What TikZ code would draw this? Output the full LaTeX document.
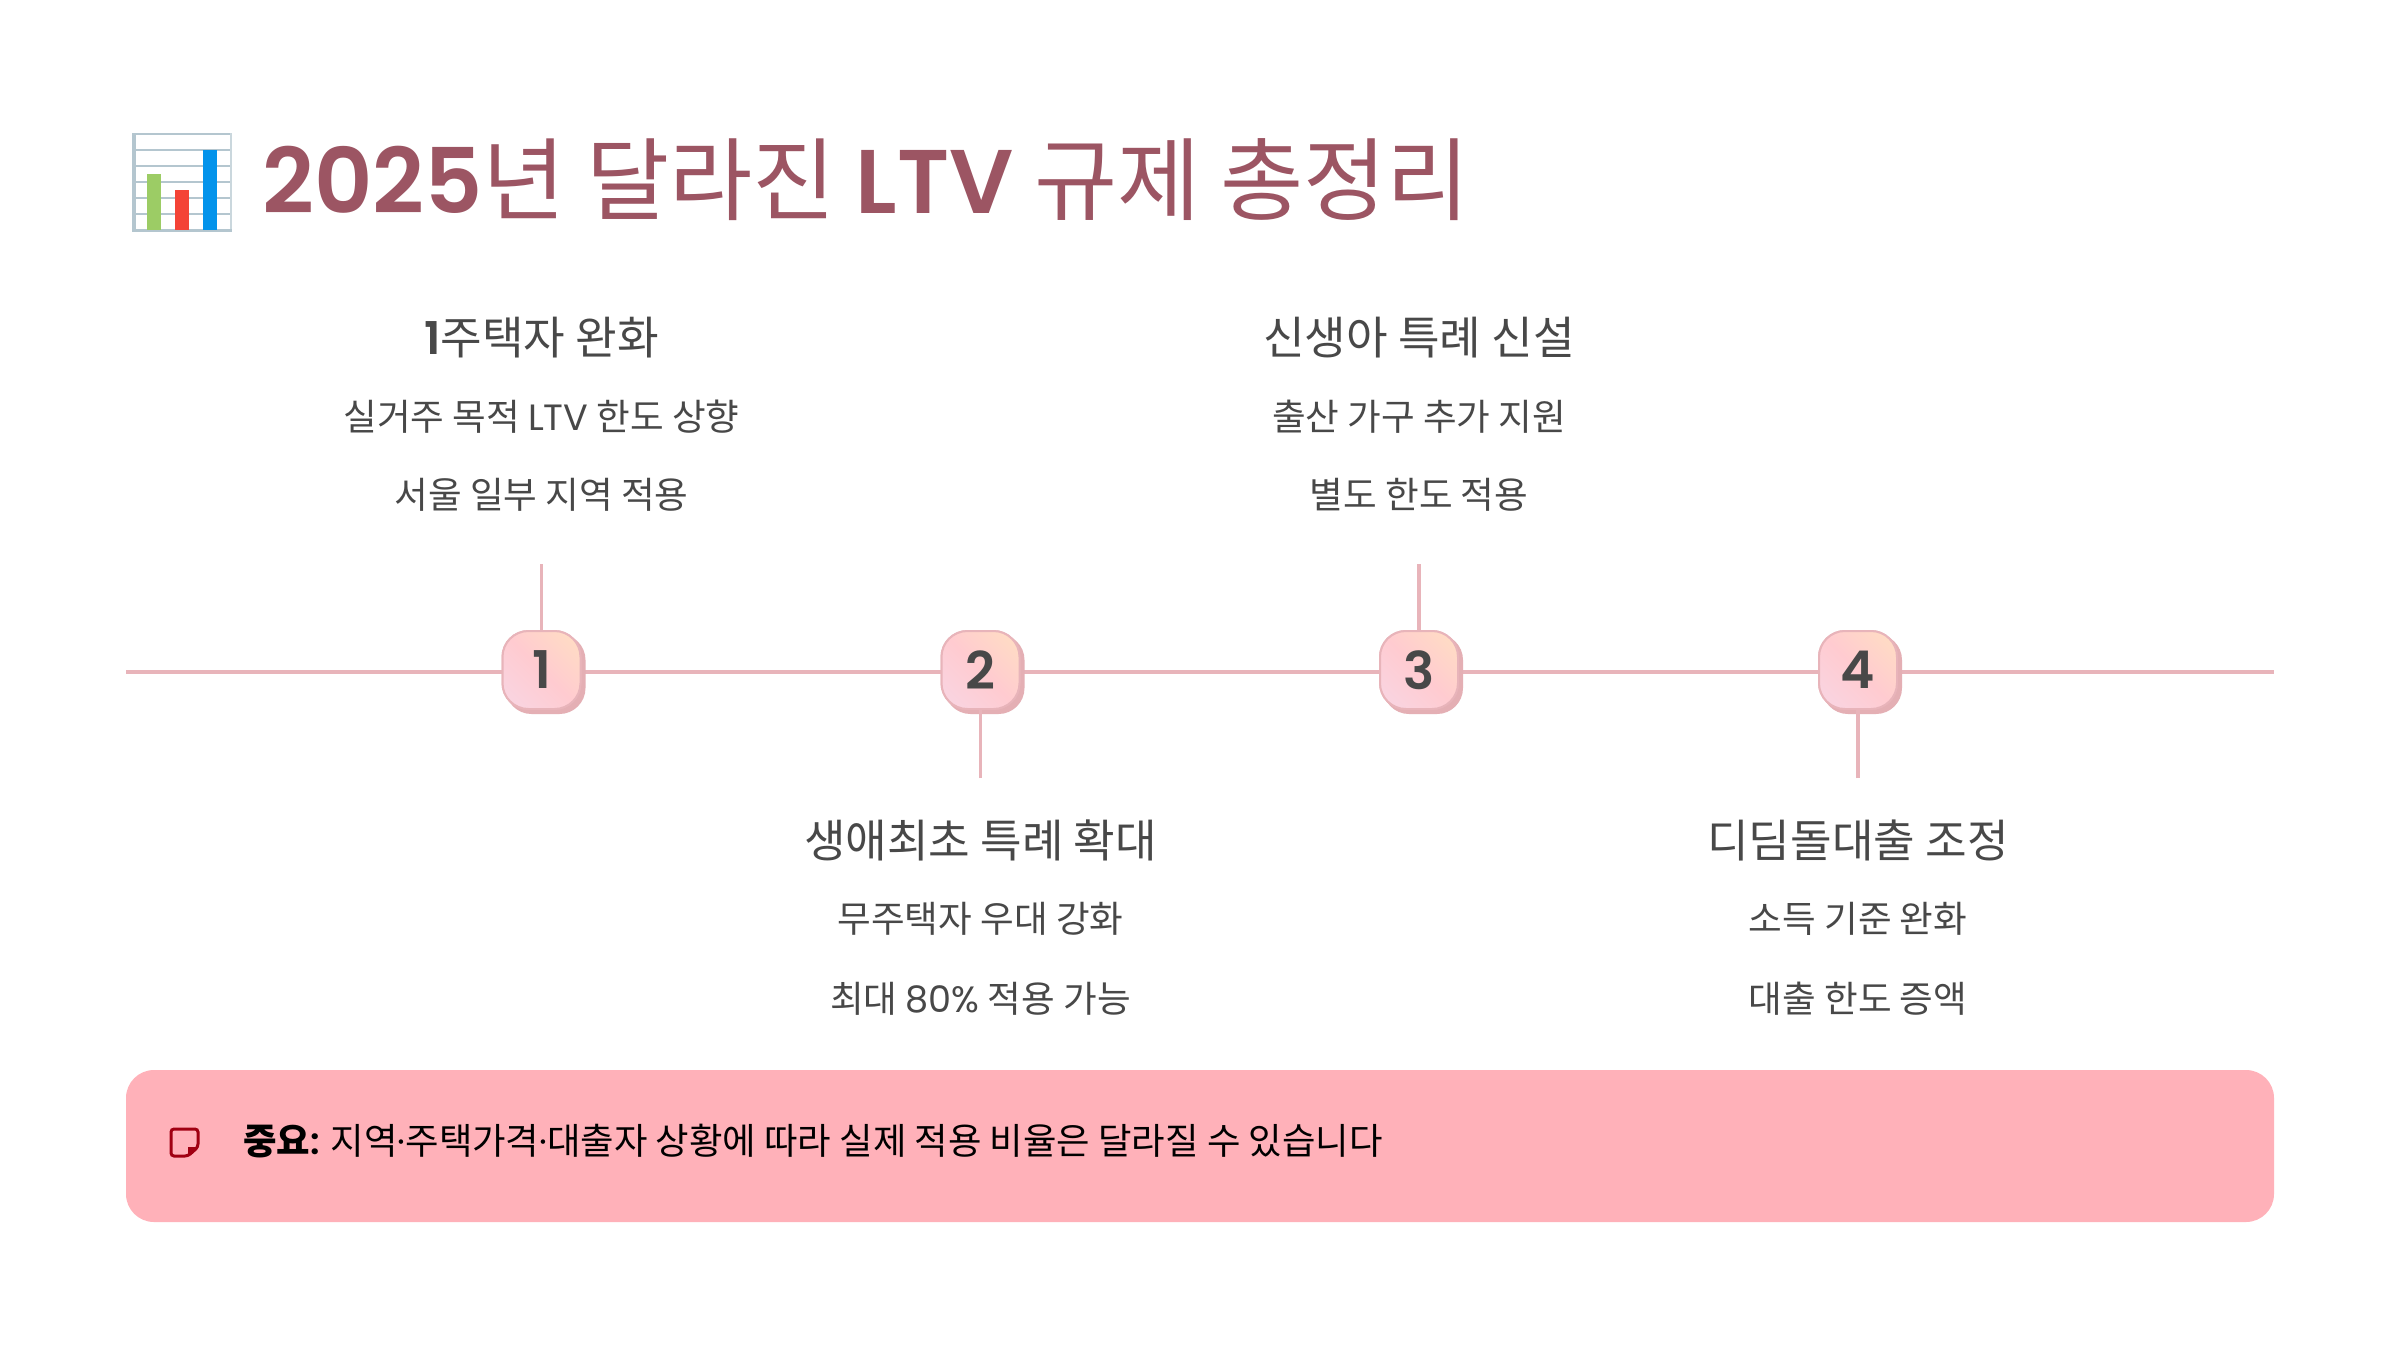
\documentclass[tikz,border=0pt]{standalone}
\usepackage{fontspec}
\setmainfont{Noto Sans CJK KR}
\newfontfamily\latfont{Poppins}
\newfontfamily\latsemi{Poppins SemiBold}
\usetikzlibrary{positioning}
\definecolor{titlecol}{HTML}{9C5563}
\definecolor{textcol}{HTML}{484848}
\definecolor{linecol}{HTML}{E8B4BA}
\definecolor{shadowcol}{HTML}{E4AFB4}
\definecolor{calloutcol}{HTML}{FFB1B9}
\definecolor{notecol}{HTML}{A00012}
\definecolor{gridcol}{HTML}{B4C6CF}
\definecolor{barA}{HTML}{9CCC65}
\definecolor{barB}{HTML}{F44336}
\definecolor{barC}{HTML}{0393EB}
\definecolor{stepA}{HTML}{F8D6E4}
\definecolor{stepB}{HTML}{FFCBD0}
\definecolor{stepC}{HTML}{FFDFC2}
\pgfdeclarehorizontalshading{stepfill}{100bp}{color(0bp)=(stepA); color(15bp)=(stepA); color(50bp)=(stepB); color(85bp)=(stepC); color(100bp)=(stepC)}
\tikzset{
  heading/.style={text=textcol,font=\fontsize{22.6}{26}\selectfont,anchor=center,inner sep=0pt},
  bodytext/.style={text=textcol,font=\fontsize{18.3}{22}\selectfont,anchor=center,inner sep=0pt},
  stepnode/.style={rounded corners=13pt,minimum size=39pt,inner sep=0pt,draw=linecol,line width=1pt,shading=stepfill,shading angle=45,text=textcol,font=\latsemi\fontsize{26}{30}\selectfont},
  stepshadow/.style={rounded corners=13pt,fill=shadowcol},
  stem/.style={linecol,line width=1.8pt},
}
\begin{document}
\begin{tikzpicture}[x=0.5pt,y=-0.5pt]
\useasboundingbox (0,0) rectangle (2400,1350);
\fill[white] (0,0) rectangle (2400,1350);
% title icon
\foreach \yy in {134,150,166,182,198,214} {\draw[gridcol,line width=0.8pt] (132,\yy) -- (232,\yy);}
\draw[gridcol!70,line width=0.8pt] (231,133) -- (231,232);
\fill[gridcol] (132,133) rectangle (136,232);
\fill[gridcol] (132,229) rectangle (232,232);
\fill[barA] (147,230) rectangle (161,174);
\fill[barB] (175,230) rectangle (189,190);
\fill[barC] (203,230) rectangle (217,150);
% title
\node[anchor=west,inner sep=0pt,text=titlecol,font=\fontsize{45.2}{54}\selectfont] (title) at (262,180) {{\latsemi 2025}년 달라진 {\latsemi LTV} 규제 총정리};
% timeline
\coordinate (lineL) at (126,672);
\coordinate (lineR) at (2274,672);
\draw[stem] (lineL) -- (lineR);
\foreach \nn/\xx/\yy in {1/541.5/564,2/980.5/778,3/1419/564,4/1858/778} {
  \coordinate (stem\nn) at (\xx,\yy);
  \fill[stepshadow] (\xx-36,634) rectangle (\xx+44,714);
  \node[stepnode] (step\nn) at (\xx,670) {\nn};
  \draw[stem] (stem\nn) -- (step\nn);
  \node[stepnode] at (step\nn) {\nn};
}
% upper and lower labels
\node[heading] (head1) at (541.5,338) {{\latsemi 1}주택자 완화};
\node[bodytext] (body1a) at (541.5,417) {실거주 목적 {\latfont LTV} 한도 상향};
\node[bodytext] (body1b) at (541.5,495) {서울 일부 지역 적용};
\node[heading] (head2) at (980.5,840) {생애최초 특례 확대};
\node[bodytext] (body2a) at (980.5,919) {무주택자 우대 강화};
\node[bodytext] (body2b) at (980.5,999) {최대 {\latfont 80\%} 적용 가능};
\node[heading] (head3) at (1419,338) {신생아 특례 신설};
\node[bodytext] (body3a) at (1419,417) {출산 가구 추가 지원};
\node[bodytext] (body3b) at (1419,495) {별도 한도 적용};
\node[heading] (head4) at (1858,840) {디딤돌대출 조정};
\node[bodytext] (body4a) at (1858,919) {소득 기준 완화};
\node[bodytext] (body4b) at (1858,999) {대출 한도 증액};
% callout
\fill[calloutcol,rounded corners=14pt] (126,1070) rectangle (2274,1222);
\draw[notecol,line width=1.5pt,rounded corners=1.5pt] (171,1129) -- (198,1129) -- (198,1147) -- (188,1156) -- (171,1156) -- cycle;
\fill[notecol] (198,1147) -- (188,1156) -- (188,1147) -- cycle;
\node[anchor=west,inner sep=0pt,text=black,font=\fontsize{18.2}{22}\selectfont] (note) at (243,1141) {\textbf{중요}{\latsemi :} 지역{\latfont ·}주택가격{\latfont ·}대출자 상황에 따라 실제 적용 비율은 달라질 수 있습니다};
\end{tikzpicture}
\end{document}
